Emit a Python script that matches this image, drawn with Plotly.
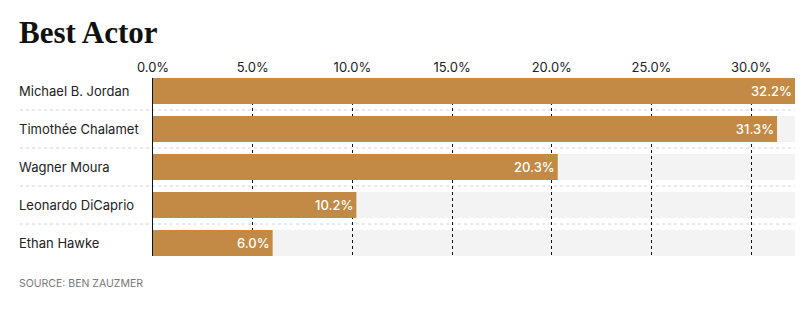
import plotly.graph_objects as go

# Nominee names and their share of the vote (percent)
actors = ["Michael B. Jordan", "Timothée Chalamet", "Wagner Moura",
          "Leonardo DiCaprio", "Ethan Hawke"]
shares = [32.2, 31.3, 20.3, 10.2, 6.0]
tick_values = [0, 5, 10, 15, 20, 25, 30]

W, H = 806, 329
M_L, M_R, M_T, M_B = 20, 11, 78, 73
plot_w = W - M_L - M_R
plot_h = H - M_T - M_B
x_start = (153 - M_L) / plot_w  # bar area starts after the label column

BAR = "#C38A45"
BG = "#F3F3F3"
LABEL_FONT = "Inter"
half = 0.342
xmax = max(shares)
TEXT_NUDGE = -3  # cancels the annotation box padding so text sits on the margin

rows = list(range(len(actors)))

fig = go.Figure()
fig.add_trace(go.Bar(
    x=shares, y=rows, orientation="h",
    marker=dict(color=BAR, line=dict(width=0)),
    width=2 * half,
    texttemplate="%{x:.1f}%",
    textposition="inside", insidetextanchor="end",
    insidetextfont=dict(color="white", size=13, family=LABEL_FONT, weight=500),
    hoverinfo="skip",
))

shapes = []
annotations = []
for i, name in enumerate(actors):
    # light track behind each bar
    shapes.append(dict(type="rect", xref="x", yref="y", x0=0, x1=xmax,
                       y0=i - half, y1=i + half, fillcolor=BG,
                       line=dict(width=0), layer="below"))
    annotations.append(dict(text=name, xref="paper", yref="y", x=0, xshift=TEXT_NUDGE,
                            y=i, xanchor="left", yanchor="middle", showarrow=False,
                            font=dict(family=LABEL_FONT, size=13, color="#222")))
    if i < len(actors) - 1:
        shapes.append(dict(type="line", xref="paper", yref="y",
                           x0=0, x1=1, y0=i + 0.5, y1=i + 0.5,
                           line=dict(color="#D4D4D4", width=1, dash="dot"), layer="below"))

annotations.append(dict(text="Best Actor", xref="paper", yref="paper",
                        x=0, xshift=TEXT_NUDGE, y=1 + 26 / plot_h,
                        xanchor="left", yanchor="bottom", showarrow=False,
                        font=dict(family="Liberation Serif", size=31, color="#111", weight="bold")))
annotations.append(dict(text="SOURCE: BEN ZAUZMER", xref="paper", yref="paper",
                        x=0, xshift=TEXT_NUDGE, y=-(283 - (H - M_B)) / plot_h,
                        xanchor="left", yanchor="middle", showarrow=False,
                        font=dict(family=LABEL_FONT, size=10.5, color="#777")))

fig.update_layout(
    width=W, height=H,
    margin=dict(l=M_L, r=M_R, t=M_T, b=M_B),
    paper_bgcolor="white", plot_bgcolor="white",
    showlegend=False, barmode="overlay",
    shapes=shapes, annotations=annotations,
    xaxis=dict(domain=[x_start, 1], range=[0, xmax], side="top",
               tickvals=tick_values, ticktext=[f"{v:.1f}%" for v in tick_values],
               showgrid=True, gridcolor="#111", griddash="dot", gridwidth=1,
               zeroline=False, showline=False, ticks="", automargin=False,
               ticklabelstandoff=2,
               tickfont=dict(family=LABEL_FONT, size=13, color="#222"),
               fixedrange=True),
    yaxis=dict(range=[len(actors) - 1 + half, -half], showticklabels=False,
               showgrid=False, zeroline=False, showline=True, automargin=False,
               linecolor="#111", linewidth=1, ticks="", fixedrange=True),
)

fig.write_html("out.html")
